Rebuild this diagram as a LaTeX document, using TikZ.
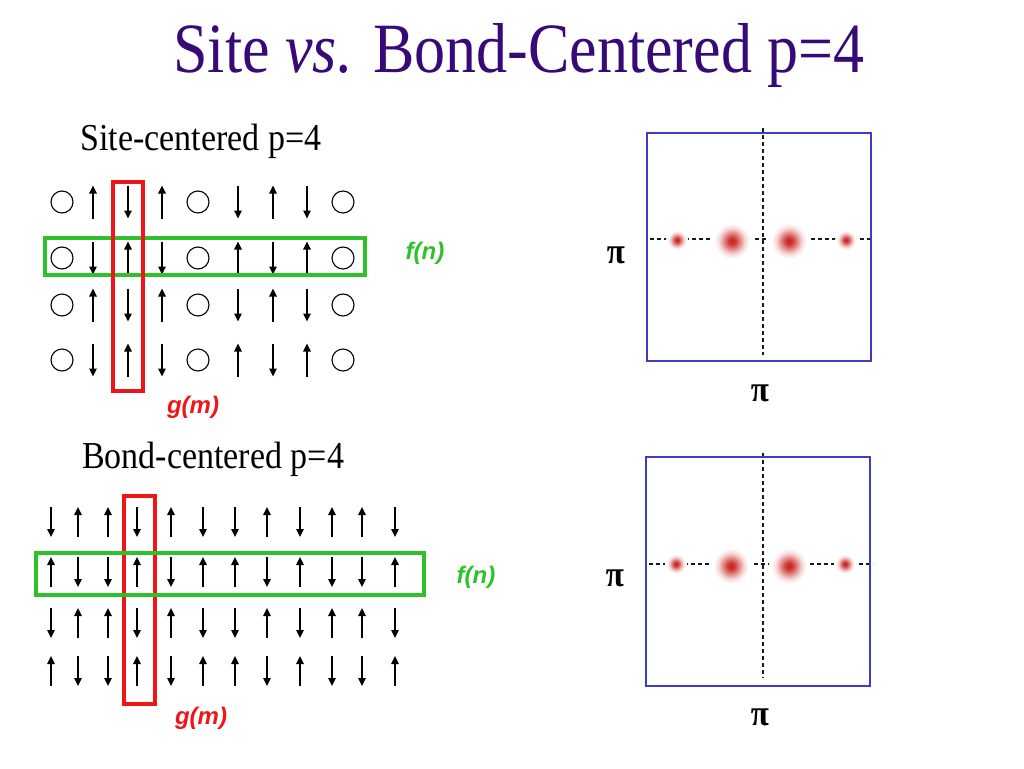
\documentclass[tikz,border=0pt]{standalone}
\usepackage{fontspec}
\setmainfont{Liberation Serif}
\newfontfamily\arialfont{Liberation Sans}
\usetikzlibrary{arrows.meta}
\definecolor{titlecol}{RGB}{55,10,120}
\definecolor{boxred}{RGB}{238,22,22}
\definecolor{boxgreen}{RGB}{45,195,40}
\definecolor{plotblue}{RGB}{60,60,200}
\definecolor{spotred}{RGB}{200,35,30}
\pgfdeclareradialshading{spotshade}{\pgfpoint{0bp}{0bp}}{color(0bp)=(spotred); color(4bp)=(spotred!92); color(10bp)=(spotred!55); color(16bp)=(spotred!18); color(22bp)=(white); color(50bp)=(white)}
\tikzset{
  x=1pt, y=-1pt,
  spin/.style={line width=1.4pt, -{Triangle[length=8pt,width=7.5pt]}},
  site/.style={draw, circle, line width=1.1pt, minimum size=22pt, inner sep=0pt},
  redbox/.style={draw=boxred, line width=4pt, inner sep=0pt},
  greenbox/.style={draw=boxgreen, line width=4pt, inner sep=0pt},
  plotbox/.style={draw=plotblue, line width=2pt, inner sep=0pt},
  axisline/.style={dashed, dash pattern=on 4pt off 3pt, line width=1.1pt, black!90},
  funlabel/.style={font=\arialfont\bfseries\itshape\fontsize{24}{24}\selectfont},
  sublabel/.style={anchor=base west, font=\fontsize{34}{34}\selectfont, inner sep=0pt},
  pilabel/.style={font=\bfseries\fontsize{33}{33}\selectfont, inner sep=0pt}
}
\newcommand\upspin[3]{\draw[spin] (#1,#2+#3/2) -- (#1,#2-#3/2);}
\newcommand\downspin[3]{\draw[spin] (#1,#2-#3/2) -- (#1,#2+#3/2);}
\begin{document}
\begin{tikzpicture}
\fill[white] (0,0) rectangle (1024,768);
\useasboundingbox (0,0) rectangle (1024,768);

% title
\node[anchor=base, inner sep=0pt, text=titlecol, font=\fontsize{62}{62}\selectfont] (title) at (519,72)
  {\scalebox{1}[1.14]{Site \textit{vs.} Bond-Centered p=4}};

% ---------- site-centered ----------
\node[sublabel] (sitelabel) at (80,150) {\scalebox{1}[1.12]{Site-centered p=4}};
\foreach \r/\y in {1/202,2/258,3/305,4/360}{
  \foreach \c/\x in {1/62,5/198,9/343}{
    \node[site] (s\r-\c) at (\x,\y) {};
  }
}
\foreach \y in {202,305}{
  \foreach \x in {93,162,273}{\upspin{\x}{\y}{33}}
  \foreach \x in {128,238,307}{\downspin{\x}{\y}{33}}
}
\foreach \y in {258,360}{
  \foreach \x in {128,238,307}{\upspin{\x}{\y}{33}}
  \foreach \x in {93,162,273}{\downspin{\x}{\y}{33}}
}
\node[greenbox, minimum width=320pt, minimum height=37pt] (sitefbox) at (205,256.5) {};
\node[redbox, minimum width=30pt, minimum height=209pt] (sitegbox) at (128,286.5) {};
\node[funlabel, text=boxgreen] (sitef) at (425,253) {f(n)};
\node[funlabel, text=boxred] (siteg) at (193,407) {g(m)};

% ---------- bond-centered ----------
\node[sublabel] (bondlabel) at (82,468) {\scalebox{1}[1.12]{Bond-centered p=4}};
\foreach \y in {522,623}{
  \foreach \x in {78,108,171,267,332,362}{\upspin{\x}{\y}{30}}
  \foreach \x in {51,137,203,235,300,395}{\downspin{\x}{\y}{30}}
}
\foreach \y in {572,671}{
  \foreach \x in {51,137,203,235,300,395}{\upspin{\x}{\y}{30}}
  \foreach \x in {78,108,171,267,332,362}{\downspin{\x}{\y}{30}}
}
\node[redbox, minimum width=31pt, minimum height=208pt] (bondgbox) at (139.5,600) {};
\node[greenbox, minimum width=388pt, minimum height=42pt] (bondfbox) at (230,574) {};
\node[funlabel, text=boxgreen] (bondf) at (476,577) {f(n)};
\node[funlabel, text=boxred] (bondg) at (201,718) {g(m)};

% ---------- plot 1 ----------
\coordinate (v1t) at (763,128);
\coordinate (v1b) at (763,355);
\coordinate (h1l) at (650,239);
\coordinate (h1r) at (873,239);
\draw[axisline] (v1t) -- (v1b);
\draw[axisline] (h1l) -- (h1r);
\shade[shading=spotshade] (677,240) circle (11);
\shade[shading=spotshade] (732,241) circle (20);
\shade[shading=spotshade] (789,241) circle (20);
\shade[shading=spotshade] (846,240) circle (11);
\node[plotbox, minimum width=224pt, minimum height=228pt] (plot1) at (759,247) {};
\node[pilabel] (pi1y) at (616,255) {\scalebox{1}[1.1]{π}};
\node[pilabel] (pi1x) at (760,393) {\scalebox{1}[1.1]{π}};

% ---------- plot 2 ----------
\coordinate (v2t) at (763,453);
\coordinate (v2b) at (763,678);
\coordinate (h2l) at (649,564);
\coordinate (h2r) at (873,564);
\draw[axisline] (v2t) -- (v2b);
\draw[axisline] (h2l) -- (h2r);
\shade[shading=spotshade] (676,564) circle (11);
\shade[shading=spotshade] (731,566) circle (20);
\shade[shading=spotshade] (789,566) circle (20);
\shade[shading=spotshade] (845,564) circle (11);
\node[plotbox, minimum width=224pt, minimum height=229pt] (plot2) at (758,571.5) {};
\node[pilabel] (pi2y) at (615,578) {\scalebox{1}[1.1]{π}};
\node[pilabel] (pi2x) at (760,717) {\scalebox{1}[1.1]{π}};
\end{tikzpicture}
\end{document}
